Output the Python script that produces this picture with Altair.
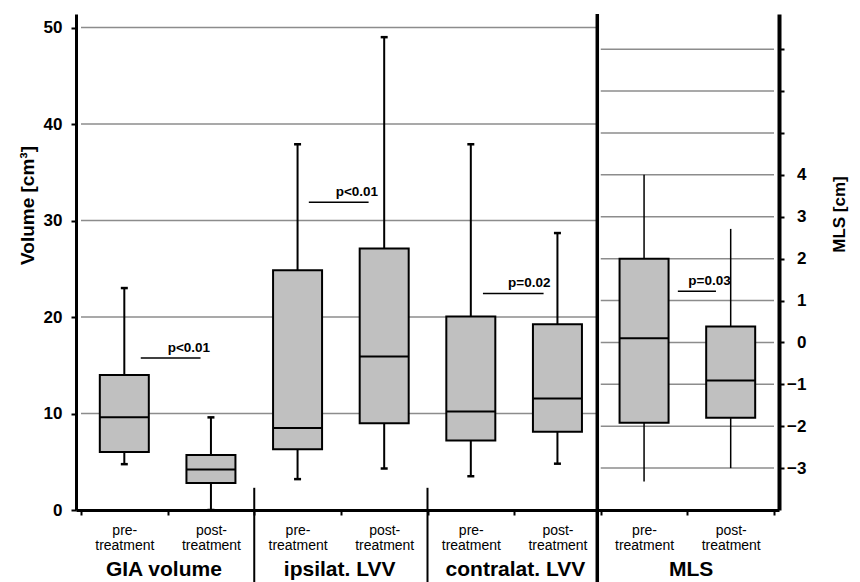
import altair as alt
import pandas as pd

FONT = "Liberation Sans"
W, H = 703, 496

# ---------------- data ----------------
groups = ["GIA volume", "ipsilat. LVV", "contralat. LVV", "MLS"]

# volume boxes (cm^3): GIA pre/post, ipsilat pre/post, contralat pre/post
vol_x = [0.5, 1.5, 2.5, 3.5, 4.5, 5.5]
vol_min = [4.75, 0.0, 3.2, 4.3, 3.5, 4.8]
vol_q1 = [6.0, 2.8, 6.3, 9.0, 7.2, 8.1]
vol_med = [9.6, 4.2, 8.5, 15.9, 10.2, 11.55]
vol_q3 = [14.0, 5.7, 24.85, 27.1, 20.05, 19.25]
vol_max = [23.0, 9.6, 37.9, 49.0, 37.9, 28.7]

# MLS boxes (cm): pre/post
mls_x = [6.5, 7.5]
mls_min = [-3.32, -3.0]
mls_q1 = [-1.92, -1.8]
mls_med = [0.1, -0.91]
mls_q3 = [2.0, 0.38]
mls_max = [4.0, 2.71]

vol_ticks = [0, 10, 20, 30, 40, 50]
vol_grid = [10, 20, 30, 40, 50]
mls_grid = [-3, -2, -1, 0, 1, 2, 3, 4, 5, 6, 7]
label_x = [0.5, 1.5, 2.5, 3.5, 4.5, 5.5, 6.5, 7.5]
bound_x = [0, 1, 2, 3, 4, 5, 6, 7, 8]

p_text = ["p<0.01", "p<0.01", "p=0.02", "p=0.03"]
p_x1 = [0.69, 2.63, 4.64, 6.89]
p_x2 = [1.38, 3.32, 5.34, 7.33]
p_text_x = [1.49, 3.43, 5.42, 7.50]
p_y = [15.76, 31.9, 22.44, 1.22]  # first three on volume scale, last on MLS scale

dividers_x = [2, 4, 5.96]
dividers_top = [2.3, 2.3, 51.4]
dividers_w = [2, 2, 3.5]

# ---------------- tables ----------------
vol_df = pd.DataFrame({"x": vol_x, "lo": vol_min, "q1": vol_q1, "med": vol_med,
                       "q3": vol_q3, "hi": vol_max})
mls_df = pd.DataFrame({"x": mls_x, "lo": mls_min, "q1": mls_q1, "med": mls_med,
                       "q3": mls_q3, "hi": mls_max})
vgrid_df = pd.DataFrame({"v": vol_grid, "x0": 0, "x1": 5.96})
mgrid_df = pd.DataFrame({"v": mls_grid, "x0": 6, "x1": 8})
pv_df = pd.DataFrame({"t": p_text[:3], "x1": p_x1[:3], "x2": p_x2[:3],
                      "tx": p_text_x[:3], "y": p_y[:3]})
pm_df = pd.DataFrame({"t": p_text[3:], "x1": p_x1[3:], "x2": p_x2[3:],
                      "tx": p_text_x[3:], "y": p_y[3:]})
div_df = pd.DataFrame({"x": dividers_x, "top": dividers_top, "w": dividers_w})
sec_df = pd.DataFrame({"g": groups})

# ---------------- scales / axes ----------------
xs = alt.Scale(domain=[0, 8], nice=False, zero=False)
yv = alt.Scale(domain=[0, 51.4], nice=False, zero=False)
ym = alt.Scale(domain=[-4, 7.84], nice=False, zero=False)

xa_v = alt.Axis(orient="bottom", values=label_x,
                labelExpr="floor(datum.value) % 2 == 0 ? ['pre-', 'treatment'] : ['post-', 'treatment']",
                ticks=False, tickSize=0, domain=False, grid=False,
                labelFont=FONT, labelFontSize=14, labelLineHeight=15,
                labelBaseline="alphabetic", labelPadding=24, labelColor="black",
                labelOverlap=False, labelFlush=False, labelBound=False, labelAngle=0,
                title=None)
xa_m = alt.Axis(orient="bottom", values=bound_x, labels=False, grid=False,
                domainColor="black", domainWidth=3, tickColor="black",
                tickWidth=2, tickSize=5, title=None)
ya_v = alt.Axis(orient="left", values=vol_ticks, grid=False,
                domainColor="black", domainWidth=3, tickColor="black",
                tickWidth=2, tickSize=5,
                labelFont=FONT, labelFontSize=17, labelFontWeight="bold",
                labelColor="black", labelPadding=9,
                title="Volume [cm³]", titleFont=FONT, titleFontSize=19,
                titleFontWeight="bold", titleColor="black", titleAngle=270,
                titleX=-49, titleY=191, titleAlign="center", titleBaseline="middle")
ya_m = alt.Axis(orient="right", values=mls_grid, grid=False,
                labelExpr="datum.value <= 4 ? datum.label : ''",
                domainColor="black", domainWidth=4, tickColor="black",
                tickWidth=2, tickSize=5,
                labelFont=FONT, labelFontSize=17, labelFontWeight="bold",
                labelColor="black", labelPadding=22, labelAlign="right",
                title="MLS [cm]", titleFont=FONT, titleFontSize=17,
                titleFontWeight="bold", titleColor="black", titleAngle=270,
                titleX=60, titleY=200, titleAlign="center", titleBaseline="middle")
sec_axis = alt.Axis(orient="bottom", domain=False, ticks=False, tickSize=0,
                    grid=False, labelPadding=65, labelBaseline="alphabetic",
                    labelFont=FONT, labelFontSize=21, labelFontWeight="bold",
                    labelColor="black", labelAngle=0, labelOverlap=False,
                    title=None)


def xq(f, axis):
    return alt.X(f, type="quantitative", scale=xs, axis=axis)


def yq(f, scale, axis):
    return alt.Y(f, type="quantitative", scale=scale, axis=axis)


BOX_FILL = "#c0c0c0"
GRID = "#8c8c8c"

# ---------------- volume layer ----------------
v_grid = alt.Chart(vgrid_df).mark_rule(color=GRID, strokeWidth=1.5).encode(
    x=xq("x0", xa_v), x2="x1", y=yq("v", yv, ya_v))
v_whisk = alt.Chart(vol_df).mark_rule(color="black", strokeWidth=2).encode(
    x=xq("x", xa_v), y=yq("lo", yv, ya_v), y2="hi")
v_box = alt.Chart(vol_df).mark_bar(size=49, fill=BOX_FILL, stroke="black",
                                   strokeWidth=2, opacity=1).encode(
    x=xq("x", xa_v), y=yq("q1", yv, ya_v), y2="q3")
v_med = alt.Chart(vol_df).mark_tick(orient="horizontal", size=49, thickness=2,
                                    color="black", opacity=1).encode(
    x=xq("x", xa_v), y=yq("med", yv, ya_v))
v_cap_hi = alt.Chart(vol_df).mark_tick(orient="horizontal", size=7, thickness=2.5,
                                       color="black", opacity=1).encode(
    x=xq("x", xa_v), y=yq("hi", yv, ya_v))
v_cap_lo = alt.Chart(vol_df).mark_tick(orient="horizontal", size=7, thickness=2.5,
                                       color="black", opacity=1).encode(
    x=xq("x", xa_v), y=yq("lo", yv, ya_v))
v_pline = alt.Chart(pv_df).mark_rule(color="black", strokeWidth=1.5).encode(
    x=xq("x1", xa_v), x2="x2", y=yq("y", yv, ya_v))
v_ptext = alt.Chart(pv_df).mark_text(align="right", baseline="alphabetic", dy=-6,
                                     font=FONT, fontSize=13.5, fontWeight="bold",
                                     color="black").encode(
    x=xq("tx", xa_v), y=yq("y", yv, ya_v), text="t:N")
v_div = alt.Chart(div_df).mark_rule(color="black").encode(
    x=xq("x", xa_v), y=yq("top", yv, ya_v), y2=alt.value(H + 80),
    strokeWidth=alt.StrokeWidth("w:Q", scale=None, legend=None))

vol_layer = alt.layer(v_grid, v_whisk, v_box, v_med, v_cap_hi, v_cap_lo,
                      v_pline, v_ptext, v_div)

# ---------------- MLS layer ----------------
m_grid = alt.Chart(mgrid_df).mark_rule(color=GRID, strokeWidth=1.5).encode(
    x=xq("x0", xa_m), x2="x1", y=yq("v", ym, ya_m))
m_whisk = alt.Chart(mls_df).mark_rule(color="black", strokeWidth=1.5).encode(
    x=xq("x", xa_m), y=yq("lo", ym, ya_m), y2="hi")
m_box = alt.Chart(mls_df).mark_bar(size=49, fill=BOX_FILL, stroke="black",
                                   strokeWidth=2, opacity=1).encode(
    x=xq("x", xa_m), y=yq("q1", ym, ya_m), y2="q3")
m_med = alt.Chart(mls_df).mark_tick(orient="horizontal", size=49, thickness=2,
                                    color="black", opacity=1).encode(
    x=xq("x", xa_m), y=yq("med", ym, ya_m))
m_pline = alt.Chart(pm_df).mark_rule(color="black", strokeWidth=1.5).encode(
    x=xq("x1", xa_m), x2="x2", y=yq("y", ym, ya_m))
m_ptext = alt.Chart(pm_df).mark_text(align="right", baseline="alphabetic", dy=-6,
                                     font=FONT, fontSize=13.5, fontWeight="bold",
                                     color="black").encode(
    x=xq("tx", xa_m), y=yq("y", ym, ya_m), text="t:N")

mls_layer = alt.layer(m_grid, m_whisk, m_box, m_med, m_pline, m_ptext)

# ---------------- section labels (axis of a band scale) ----------------
sec_layer = alt.Chart(sec_df).mark_point(opacity=0).encode(
    x=alt.X("g:N", sort=groups,
            scale=alt.Scale(type="band", paddingInner=0, paddingOuter=0),
            axis=sec_axis),
    y=alt.value(0))

chart = (
    alt.layer(mls_layer, vol_layer, sec_layer)
    .resolve_scale(x="independent", y="independent")
    .properties(width=W, height=H,
                padding={"left": 68, "top": 6, "right": 73, "bottom": 80},
                autosize=alt.AutoSizeParams(type="none"),
                background="white")
    .configure(font=FONT)
    .configure_view(stroke=None)
)

chart.save("out.html", embed_options={"renderer": "svg", "actions": False})
